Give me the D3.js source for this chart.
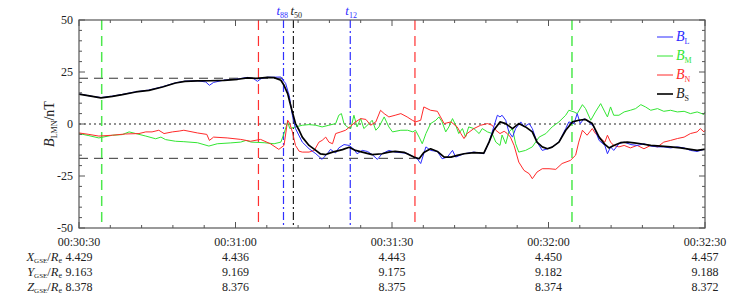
<!DOCTYPE html>
<html>
<head>
<meta charset="utf-8">
<script src="https://cdn.jsdelivr.net/npm/d3@7"></script>
<style>
  body { margin: 0; background: #fff; }
  text { font-family: "Liberation Serif", "Times New Roman", serif; }
</style>
</head>
<body>
<svg id="chart" width="740" height="298"></svg>
<script>
// time in seconds after 00:30:30, values in nT
var BS = [[0,14.4],[2,13.5],[4.2,12.6],[6.4,13.3],[8.3,14.1],[10.9,15.4],[13.4,16.2],[16,17.8],[18.5,19.7],[20.3,20.5],[22.7,20.7],[25.2,20.8],[27.8,21],[30.4,21.5],[32.3,22.2],[34.2,21.9],[36.1,22.4],[37.4,22.3],[38.7,21],[39.3,18.6],[40,14.6],[40.4,10.6],[40.9,5.8],[41.5,0.2],[42.2,-3],[42.8,-6.3],[44.1,-10.3],[45.4,-12.7],[46.3,-14.4],[47.3,-14.7],[48.6,-13.5],[50.5,-12.3],[51.8,-11.2],[53,-12.7],[54.3,-13.5],[56.2,-14.7],[58.1,-14.3],[59.4,-13.5],[60.6,-13.2],[62.3,-13.6],[64.2,-15.9],[65.2,-16.7],[66.1,-13.7],[67.4,-11.9],[68.7,-13.2],[70,-15.9],[71.3,-15.9],[72.5,-15.1],[73.8,-14.3],[75.7,-13.8],[77.6,-14],[78.6,-8.7],[79.5,-3],[80.7,1],[81.8,0.2],[83.1,-2.2],[84.3,0.2],[85.6,-1.4],[86.9,-3.8],[87.8,-8.7],[88.8,-11],[89.8,-11.9],[90.7,-11.1],[92,-8.7],[93.3,-3],[94.6,1],[95.8,1.8],[97.1,2.2],[98.4,0.2],[99.7,-6.3],[100.8,-9.8],[101.6,-11.5],[102.5,-10.3],[103.8,-9],[105.1,-8.7],[106.4,-9.1],[107.7,-9.5],[109.6,-10.3],[111.5,-10.6],[113.4,-11],[115.3,-11.5],[117.2,-12.2],[118.5,-12.7],[119.8,-12.2],[120,-12.2]];

var BL = [[0,14.5],[2,13.5],[4.2,12.7],[6.4,13.4],[8.3,14.2],[10.9,15.5],[13.4,16.3],[16,17.9],[18.5,19.8],[20.3,20.6],[22.7,20.8],[24.3,20.2],[25,18.6],[25.8,20],[27.8,21.1],[30.4,21.6],[32.3,22.4],[33.5,21.8],[34.2,20.5],[34.9,21.8],[36.1,22.5],[37.4,22.5],[38.7,22.6],[39.1,21],[39.6,19.6],[40.1,15.3],[40.3,13.8],[40.9,4.2],[41.5,-2.2],[42.8,-8.7],[44.1,-11.9],[45.4,-14.3],[46.6,-17],[47.6,-14.3],[48.2,-12.2],[49.2,-13.9],[49.8,-11.5],[50.8,-9.9],[51.8,-10.3],[52.7,-12.2],[53.3,-14.3],[54.3,-12.7],[55.3,-13.2],[56.2,-14.7],[57.2,-17],[58.1,-14.3],[59.4,-12.7],[60.6,-13.5],[62.9,-14.1],[64.9,-16.9],[65.5,-19],[66.5,-11],[67.4,-12.7],[68.7,-13.2],[69.6,-16.7],[70.6,-15.9],[71.6,-12.7],[72.2,-15.9],[73.8,-14.3],[75.7,-13.5],[77.6,-14.3],[78.6,-8.7],[79.5,-1.4],[80.2,4.2],[80.7,3.4],[81.1,4.2],[81.8,1.8],[82.4,-3.8],[83.1,-6.3],[83.7,-2.2],[84.7,1],[85.3,-1.4],[86.3,0.2],[86.9,-2.2],[87.8,-8.7],[88.8,-12.7],[89.8,-11.9],[90.7,-11.1],[92,-8.7],[93.3,-2.2],[93.9,1],[94.9,0.2],[95.5,5],[96.1,0.2],[96.8,2.6],[97.7,1],[98.7,-1.4],[99.7,-7.9],[100.8,-10.3],[101.3,-14.3],[101.9,-11],[102.5,-12.7],[103.5,-9.5],[104.5,-8.7],[105.8,-9.9],[107,-10.3],[108.3,-9.5],[109.6,-10.6],[110.9,-11],[112.1,-11],[113.4,-11.5],[114.7,-11],[116,-11.5],[117.2,-12.7],[118.5,-13.2],[119.8,-12.2],[120,-12.2]];

var BM = [[0,-4.6],[1.9,-5.6],[3.8,-6.7],[6.4,-5.4],[8.3,-5.1],[9.6,-3.8],[10.9,-4.6],[12.8,-5.8],[14.7,-7.1],[15.7,-6.3],[16.6,-7.5],[18.5,-8.3],[20.1,-8.5],[22.7,-9],[24.9,-10.6],[26.5,-9.5],[29,-9.1],[31,-8.7],[32,-7.9],[33,-8.7],[35.5,-9],[37.4,-9.5],[38.7,-8.7],[39.3,-4.6],[40,1],[40.4,-2.2],[41.5,-1.4],[42.8,-0.6],[44.1,-0.3],[45.4,-0.6],[46.6,-1.4],[47.9,-0.6],[49.2,0.2],[49.8,4.2],[50.3,5],[50.8,0.2],[51.4,-1.4],[52.1,-2.2],[52.7,4.2],[53.3,-1.4],[54,2.6],[54.6,-2.2],[55.6,0.2],[56.2,1.8],[56.9,-3],[57.5,-1.4],[58.5,3.4],[59.4,-1.4],[60.1,-3.8],[61.7,-3],[63,-3],[64,-3.8],[64.5,-3],[65.2,-6.3],[65.8,-9.5],[66.5,-4.6],[67.4,0.2],[68.4,1.8],[69,3.4],[69.6,1],[70.3,-3.8],[70.9,-1.4],[71.6,2.6],[72.2,-0.6],[72.8,-4.6],[73.5,-2.2],[74.1,-6.3],[74.7,-1.4],[75.7,-2.2],[76.7,-4.6],[77.3,-2.2],[78.3,-3.8],[79.2,-4.6],[79.9,-8.7],[80.7,-10.3],[81.1,-5.3],[81.8,-9.5],[82.4,-3.8],[83.1,-2.2],[83.7,-9.5],[84.3,-13.5],[85.6,-12.7],[86.9,-11],[88.2,-6.3],[89.5,-4.6],[90.7,-1.4],[92,1],[93.3,4.2],[93.9,6.6],[94.9,5.8],[95.5,5],[96.5,9.3],[97.1,7.4],[98.1,1.8],[99,5.8],[100,9.8],[100.8,5.8],[101.3,3.4],[101.9,8.2],[102.5,4.2],[103.5,4.2],[104.5,5.8],[105.7,6.6],[106.7,7.4],[107.7,9.3],[108.6,8.2],[109.6,6.6],[110.9,7.4],[112.1,6.1],[113.4,6.6],[114.7,5.8],[116,6.1],[117.2,5],[118.5,5.8],[119.8,4.6],[120,5.8]];

var BN = [[0,-4.3],[1.9,-5],[3.8,-5.8],[6.4,-5.4],[8.9,-4.8],[11.5,-4.6],[12.8,-3.8],[14,-3.8],[15.3,-3],[16.3,-4.6],[17.9,-3.8],[19.2,-3.4],[20.1,-3],[22.7,-4.3],[24.5,-5],[25,-7.9],[25.8,-6.3],[28.4,-6.7],[31,-7.4],[32.9,-8.3],[34.8,-7.4],[36.7,-9.5],[38.3,-12.2],[39.3,-10.3],[40,1.8],[40.4,0.2],[40.9,-3.8],[41.5,-10.3],[42.2,-13.1],[42.8,-13.5],[44.1,-13.5],[45.1,-12.7],[46,-8.7],[46.6,-7.9],[47.3,-6.3],[47.9,-8.7],[48.6,-9.5],[49.2,-4.6],[50.2,-3.8],[51.1,-3],[52.1,-1],[53,1],[54,2.6],[55,2.2],[55.9,-0.6],[56.9,1],[57.8,6.6],[58.5,5],[59.4,3.4],[60.6,4.2],[61.7,5],[62.9,3.4],[63.9,1.8],[64.5,1],[65.5,1.8],[66.1,8.2],[67.4,6.6],[68.7,6.1],[69.3,3.4],[70,0.2],[71.3,1],[72.5,-1.4],[73.2,-4.6],[73.8,-7],[74.4,-4.6],[75.7,-2.2],[77,-0.6],[78.3,0.2],[79.2,-0.6],[79.9,-3],[80.7,-4.6],[81.5,-3.5],[82.1,-4.6],[82.7,-6.3],[83.4,-10.3],[84.3,-18.3],[85.3,-22.3],[86.3,-23.9],[86.9,-26.3],[87.8,-23.1],[88.8,-21.5],[90.1,-21.5],[91.4,-21.8],[92.6,-19],[94.2,-17.5],[95.2,-15],[95.8,-8.7],[96.5,-3],[97.4,-5.4],[98.4,-2.2],[99,-4.6],[99.7,-6.3],[100.8,-8.7],[101.3,-5.4],[101.9,-8.7],[102.5,-10.3],[103.5,-11],[104.5,-10.3],[105.7,-11.5],[107,-10.3],[108.3,-11.9],[109.6,-10.3],[110.9,-11],[112.1,-8.7],[113.4,-7.9],[114.7,-7],[116,-6.3],[117.2,-4.6],[118.5,-3.8],[119.1,-2.2],[119.8,-3.8],[120,-3]];

var timeTicks = [0, 30, 60, 90, 120];
var timeLabels = ["00:30:30", "00:31:00", "00:31:30", "00:32:00", "00:32:30"];
var xGse = ["4.429", "4.436", "4.443", "4.450", "4.457"];
var yGse = ["9.163", "9.169", "9.175", "9.182", "9.188"];
var zGse = ["8.378", "8.376", "8.375", "8.374", "8.372"];
var yTicks = [-50, -25, 0, 25, 50];

// vertical markers: [time, kind]
var markers = [[4.35, "green"], [34.4, "red"], [39.2, "t88"], [41.1, "t50"], [52, "t12"], [64.4, "red"], [94.5, "green"]];
var levels = [[22, 0, 39.2], [-16.5, 0, 64.4]];

var margin = {top: 20, right: 35, bottom: 70, left: 79},
    width = 740 - margin.left - margin.right,
    height = 298 - margin.top - margin.bottom;

var svg = d3.select("#chart");
var g = svg.append("g").attr("transform", `translate(${margin.left},${margin.top})`);

var x = d3.scaleLinear().domain([0, 120]).range([0, width]);
var y = d3.scaleLinear().domain([-50, 50]).range([height, 0]);

var colors = {BL: "#2a2aff", BM: "#33e633", BN: "#ff2a2a", BS: "#000000"};
var axisColor = "#555";

// zero line and reference levels
g.append("line").attr("x1", 0).attr("x2", width).attr("y1", y(0)).attr("y2", y(0))
  .attr("stroke", "#222").attr("stroke-dasharray", "2,3").attr("stroke-width", 1);
levels.forEach(function(l) {
  g.append("line").attr("x1", x(l[1])).attr("x2", x(l[2])).attr("y1", y(l[0])).attr("y2", y(l[0]))
    .attr("stroke", "#333").attr("stroke-dasharray", "9,6").attr("stroke-width", 1);
});

// vertical markers
var mstyle = {
  green: {c: "#4de84d", d: "10,6", w: 1.5},
  red: {c: "#ff3030", d: "10,6", w: 1.2},
  t88: {c: "#3030ff", d: "8,3,2,3", w: 1.2, off: -7},
  t50: {c: "#222", d: "8,3,2,3", w: 1.2, off: -3},
  t12: {c: "#3030ff", d: "8,3,2,3", w: 1.2, off: -5}
};
markers.forEach(function(m) {
  var s = mstyle[m[1]];
  g.append("line").attr("x1", x(m[0])).attr("x2", x(m[0])).attr("y1", 0).attr("y2", height)
    .attr("stroke", s.c).attr("stroke-dasharray", s.d).attr("stroke-width", s.w);
  if (m[1].charAt(0) == "t") {
    var t = g.append("text").attr("x", x(m[0]) + s.off).attr("y", -5)
      .attr("fill", s.c).style("font-size", "13px");
    t.append("tspan").style("font-style", "italic").text("t");
    t.append("tspan").attr("dy", 3).style("font-size", "8px").text(m[1].slice(1));
  }
});

// series
var line = d3.line().x(d => x(d[0])).y(d => y(d[1]));
[["BM", BM, 1], ["BN", BN, 1], ["BL", BL, 1], ["BS", BS, 1.7]].forEach(function(s) {
  g.append("path").datum(s[1]).attr("fill", "none").attr("stroke", colors[s[0]])
    .attr("stroke-width", s[2]).attr("stroke-linejoin", "round").attr("d", line);
});

// frame
g.append("rect").attr("width", width).attr("height", height)
  .attr("fill", "none").attr("stroke", axisColor).attr("stroke-width", 1.2);

// ticks on all sides, inward
var xMinor = d3.range(0, 121, 6), yMinor = d3.range(-50, 51, 5);
xMinor.forEach(function(t) {
  var len = (t % 30 == 0) ? 6 : 3;
  g.append("line").attr("x1", x(t)).attr("x2", x(t)).attr("y1", height).attr("y2", height - len).attr("stroke", axisColor);
  g.append("line").attr("x1", x(t)).attr("x2", x(t)).attr("y1", 0).attr("y2", len).attr("stroke", axisColor);
});
yMinor.forEach(function(v) {
  var len = (v % 25 == 0) ? 6 : 3;
  g.append("line").attr("x1", 0).attr("x2", len).attr("y1", y(v)).attr("y2", y(v)).attr("stroke", axisColor);
  g.append("line").attr("x1", width).attr("x2", width - len).attr("y1", y(v)).attr("y2", y(v)).attr("stroke", axisColor);
});

// y tick labels
yTicks.forEach(function(v) {
  g.append("text").attr("x", -6).attr("y", y(v) + 4).attr("text-anchor", "end")
    .style("font-size", "12px").attr("fill", "#222").text(v);
});

// y axis label
var yl = g.append("text").attr("transform", `translate(-25,${height / 2}) rotate(-90)`)
  .attr("text-anchor", "middle").style("font-size", "14px").attr("fill", "#222");
yl.append("tspan").style("font-style", "italic").text("B");
yl.append("tspan").attr("dy", 3).style("font-size", "8px").text("LMN");
yl.append("tspan").attr("dy", -3).text("/nT");

// bottom table
var rows = [[timeLabels, null, 246], [xGse, "X", 261], [yGse, "Y", 276], [zGse, "Z", 291]];
rows.forEach(function(r) {
  r[0].forEach(function(txt, i) {
    svg.append("text").attr("x", margin.left + x(timeTicks[i])).attr("y", r[2])
      .attr("text-anchor", "middle").style("font-size", "12px").attr("fill", "#222").text(txt);
  });
  if (r[1]) {
    var lb = svg.append("text").attr("x", 62).attr("y", r[2]).attr("text-anchor", "end")
      .style("font-size", "12.5px").attr("fill", "#222");
    lb.append("tspan").style("font-style", "italic").text(r[1]);
    lb.append("tspan").attr("dy", 2).style("font-size", "7px").text("GSE");
    lb.append("tspan").attr("dy", -2).text("/");
    lb.append("tspan").style("font-style", "italic").text("R");
    lb.append("tspan").attr("dy", 2).style("font-size", "8px").text("e");
  }
});

// legend
var legend = [["BL", "L"], ["BM", "M"], ["BN", "N"], ["BS", "S"]];
legend.forEach(function(d, i) {
  var ly = 37 + i * 19;
  g.append("line").attr("x1", 578).attr("x2", 594).attr("y1", ly - margin.top).attr("y2", ly - margin.top)
    .attr("stroke", d[0] == "BS" ? "#333" : colors[d[0]]).attr("stroke-width", d[0] == "BS" ? 2 : 1);
  var t = g.append("text").attr("x", 597).attr("y", ly - margin.top + 4)
    .style("font-size", "14px").attr("fill", d[0] == "BS" ? "#222" : colors[d[0]]);
  t.append("tspan").style("font-style", "italic").text("B");
  t.append("tspan").attr("dy", 3).style("font-size", "8px").text(d[1]);
});
</script>
</body>
</html>
